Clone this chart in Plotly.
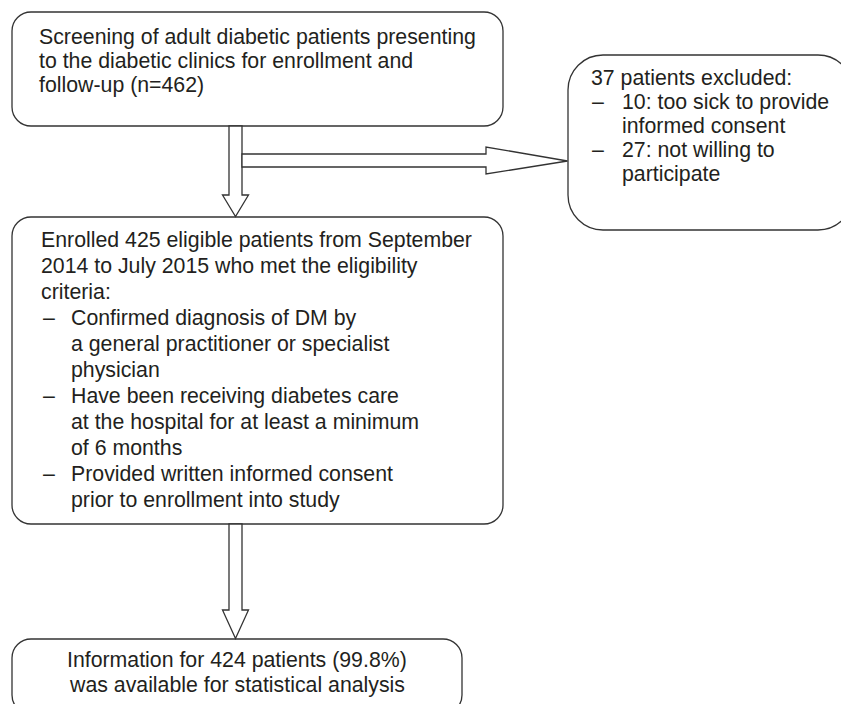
import plotly.graph_objects as go

# ---------------- data (texts of the flow diagram) ----------------
screen_lines = [
    "Screening of adult diabetic patients presenting",
    "to the diabetic clinics for enrollment and",
    "follow-up (n=462)",
]
excluded_title = "37 patients excluded:"
excluded_items = [
    ["10: too sick to provide", "informed consent"],
    ["27: not willing to", "participate"],
]
enrolled_intro = [
    "Enrolled 425 eligible patients from September",
    "2014 to July 2015 who met the eligibility",
    "criteria:",
]
criteria_items = [
    ["Confirmed diagnosis of DM by", "a general practitioner or specialist", "physician"],
    ["Have been receiving diabetes care", "at the hospital for at least a minimum", "of 6 months"],
    ["Provided written informed consent", "prior to enrollment into study"],
]
final_lines = [
    "Information for 424 patients (99.8%)",
    "was available for statistical analysis",
]
DASH = "\u2013"

# ---------------- layout constants ----------------
W, H = 841, 704
FONT = dict(family="Liberation Sans, Arial, sans-serif", size=21.3, color="#231f20")
LINE = dict(color="#333333", width=1.3)

fig = go.Figure()
shapes = []
annotations = []


def rounded_rect(x0, y0, x1, y1, r):
    k = 0.5523 * r
    p = (f"M {x0 + r},{y0} L {x1 - r},{y0} "
         f"C {x1 - r + k},{y0} {x1},{y0 + r - k} {x1},{y0 + r} "
         f"L {x1},{y1 - r} "
         f"C {x1},{y1 - r + k} {x1 - r + k},{y1} {x1 - r},{y1} "
         f"L {x0 + r},{y1} "
         f"C {x0 + r - k},{y1} {x0},{y1 - r + k} {x0},{y1 - r} "
         f"L {x0},{y0 + r} "
         f"C {x0},{y0 + r - k} {x0 + r - k},{y0} {x0 + r},{y0} Z")
    shapes.append(dict(type="path", path=p, xref="x", yref="y",
                       line=LINE, fillcolor="white", layer="below"))


def polygon(pts):
    p = "M " + " L ".join(f"{x},{y}" for x, y in pts) + " Z"
    shapes.append(dict(type="path", path=p, xref="x", yref="y",
                       line=LINE, fillcolor="white", layer="below"))


def text(x, y, s, anchor="left"):
    annotations.append(dict(x=x, y=y, xref="x", yref="y", text=s,
                            showarrow=False, xanchor=anchor, yanchor="middle",
                            font=FONT, borderpad=0))


def down_arrow(xl, xr, y0, yh, ytip, hw):
    xc = (xl + xr) / 2
    polygon([(xl, y0), (xr, y0), (xr, yh), (xc + hw, yh), (xc, ytip),
             (xc - hw, yh), (xl, yh)])


# boxes
rounded_rect(12, 12, 503, 126, 19)          # screening
rounded_rect(568, 55, 853, 230, 35)         # excluded
rounded_rect(12, 217, 503, 524, 19)         # enrolled
rounded_rect(12, 639, 462, 714, 19)         # final

# arrows
down_arrow(229, 242, 126, 195, 216.5, 13)
polygon([(242, 154), (486, 154), (486, 147), (567.5, 161), (486, 174),
         (486, 167), (242, 167)])
down_arrow(229, 242, 524, 610, 638.5, 13)

# --- texts ---
# screening box
y = 37
for s in screen_lines:
    text(37.5, y, s)
    y += 24

# excluded box
y = 78
text(590, y, excluded_title)
y += 24
for item in excluded_items:
    text(591, y, DASH)
    for s in item:
        text(620.5, y, s)
        y += 24

# enrolled box
y = 240
for s in enrolled_intro:
    text(40, y, s)
    y += 26
for item in criteria_items:
    text(41.5, y, DASH)
    for s in item:
        text(70, y, s)
        y += 26

# final box
y = 660
for s in final_lines:
    text(237, y, s, anchor="center")
    y += 25

fig.update_layout(
    width=W, height=H,
    margin=dict(l=0, r=0, t=0, b=0),
    paper_bgcolor="white", plot_bgcolor="white",
    xaxis=dict(range=[0, W], visible=False, fixedrange=True),
    yaxis=dict(range=[H, 0], visible=False, fixedrange=True),
    shapes=shapes, annotations=annotations,
    showlegend=False,
)

fig.write_html("out.html", config={"displayModeBar": False},
               post_script="document.body.style.margin='0';")
